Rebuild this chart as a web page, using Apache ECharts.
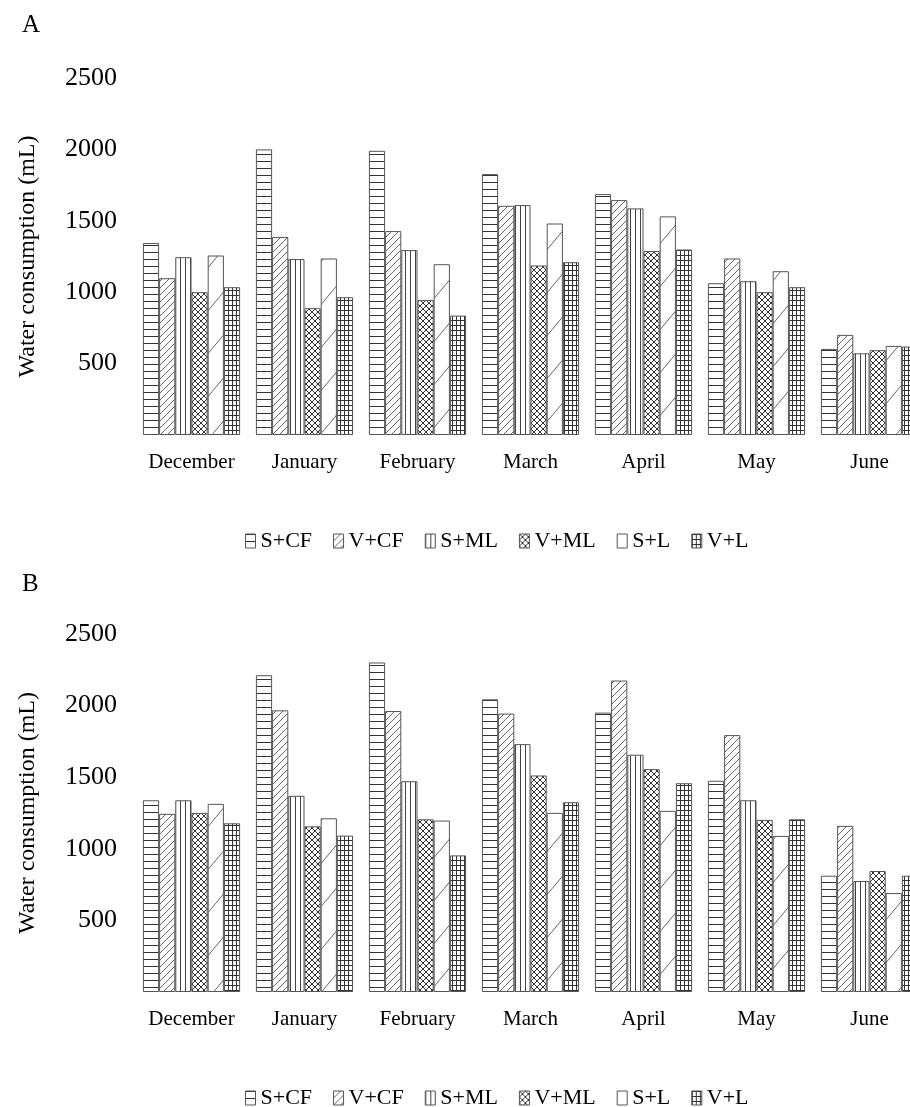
<!DOCTYPE html>
<html>
<head>
<meta charset="utf-8">
<script src="https://cdn.jsdelivr.net/npm/echarts@6/dist/echarts.min.js"></script>
<style>
  html, body { margin: 0; padding: 0; background: #fff; }
  #chart { width: 910px; height: 1107px; }
</style>
</head>
<body>
<div id="chart"></div>
<script>
// months on the x axis
const months = ["December", "January", "February", "March", "April", "May", "June"];
const seriesNames = ["S+CF", "V+CF", "S+ML", "V+ML", "S+L", "V+L"];
const yTicks = [0, 500, 1000, 1500, 2000, 2500];

// panel A
const aSCF = [1344, 2000, 1990, 1827, 1687, 1063, 603];
const aVCF = [1098, 1386, 1428, 1605, 1645, 1236, 701];
const aSML = [1245, 1232, 1295, 1610, 1587, 1077, 572];
const aVML = [1000, 888, 946, 1187, 1288, 1000, 594];
const aSL = [1257, 1236, 1196, 1481, 1531, 1147, 624];
const aVL = [1035, 965, 836, 1210, 1299, 1035, 619];

// panel B
const bSCF = [1339, 2212, 2301, 2044, 1951, 1475, 812];
const bVCF = [1244, 1967, 1962, 1944, 2175, 1794, 1160];
const bSML = [1339, 1370, 1472, 1731, 1657, 1339, 775];
const bVML = [1251, 1157, 1206, 1512, 1556, 1202, 845];
const bSL = [1314, 1213, 1197, 1251, 1265, 1090, 691];
const bVL = [1178, 1092, 954, 1325, 1458, 1206, 812];

const FONT = "Liberation Serif";

// hatch fills drawn on small canvases
function hatch(w, h, color, segs) {
  const c = document.createElement("canvas");
  c.width = w;
  c.height = h;
  const ctx = c.getContext("2d");
  ctx.fillStyle = "#fff";
  ctx.fillRect(0, 0, w, h);
  ctx.strokeStyle = color;
  ctx.lineWidth = 1;
  segs.forEach((s) => {
    ctx.beginPath();
    ctx.moveTo(s[0], s[1]);
    ctx.lineTo(s[2], s[3]);
    ctx.stroke();
  });
  return { image: c, repeat: "repeat" };
}

const fills = [
  hatch(8, 7, "#333", [[0, 0.5, 8, 0.5]]),
  hatch(7, 7, "#666", [[0, 7, 7, 0], [-1, 1, 1, -1], [6, 8, 8, 6]]),
  hatch(5, 8, "#444", [[0.5, 0, 0.5, 8]]),
  hatch(6, 6, "#333", [[0, 6, 6, 0], [0, 0, 6, 6], [-1, 1, 1, -1], [5, 7, 7, 5], [-1, 5, 1, 7], [5, -1, 7, 1]]),
  hatch(36, 43, "#666", [[0, 43, 36, 0], [-2, 2, 2, -2], [34, 45, 38, 41]]),
  hatch(4, 5, "#333", [[0.5, 0, 0.5, 5], [0, 0.5, 4, 0.5]]),
];

const panelA = [aSCF, aVCF, aSML, aVML, aSL, aVL];
const panelB = [bSCF, bVCF, bSML, bVML, bSL, bVL];

function makeSeries(panel, idx) {
  return panel.map((vals, i) => ({
    name: seriesNames[i],
    type: "bar",
    xAxisIndex: idx,
    yAxisIndex: idx,
    data: vals,
    barGap: "0%",
    barCategoryGap: "14%",
    itemStyle: {
      color: fills[i],
      borderColor: "#555",
      borderWidth: 1,
    },
  }));
}

function xAxisFor(idx) {
  return {
    type: "category",
    gridIndex: idx,
    data: months,
    axisLine: { show: false },
    axisTick: { show: false },
    axisLabel: {
      interval: 0,
      color: "#000",
      fontFamily: FONT,
      fontSize: 21,
      margin: 17,
    },
  };
}

function yAxisFor(idx) {
  return {
    type: "value",
    gridIndex: idx,
    min: yTicks[0],
    max: yTicks[yTicks.length - 1],
    interval: yTicks[1] - yTicks[0],
    name: "Water consumption (mL)",
    nameLocation: "middle",
    nameGap: 95,
    nameTextStyle: { color: "#000", fontFamily: FONT, fontSize: 24 },
    axisLine: { show: false },
    axisTick: { show: false },
    splitLine: { show: false },
    axisLabel: {
      color: "#000",
      fontFamily: FONT,
      fontSize: 26,
      margin: 18,
      formatter: (v) => (v === 0 ? "" : v),
    },
  };
}

function legendFor(top) {
  return {
    data: seriesNames,
    left: 240,
    top: top,
    icon: "rect",
    itemWidth: 10,
    itemHeight: 14,
    itemGap: 21,
    itemStyle: { borderColor: "#555", borderWidth: 1 },
    textStyle: { color: "#000", fontFamily: FONT, fontSize: 22 },
  };
}

const chart = echarts.init(document.getElementById("chart"));

const option = {
  animation: false,
  backgroundColor: "#fff",
  title: [
    { text: "A", left: 17, top: 8, textStyle: { fontFamily: FONT, fontSize: 25, fontWeight: "normal", color: "#000" } },
    { text: "B", left: 17, top: 567, textStyle: { fontFamily: FONT, fontSize: 25, fontWeight: "normal", color: "#000" } },
  ],
  legend: [legendFor(525), legendFor(1082)],
  grid: [
    { left: 135, width: 791, top: 78, height: 357, outerBoundsMode: "none" },
    { left: 135, width: 791, top: 634, height: 358, outerBoundsMode: "none" },
  ],
  xAxis: [xAxisFor(0), xAxisFor(1)],
  yAxis: [yAxisFor(0), yAxisFor(1)],
  series: [...makeSeries(panelA, 0), ...makeSeries(panelB, 1)],
};

chart.setOption(option);
</script>
</body>
</html>
